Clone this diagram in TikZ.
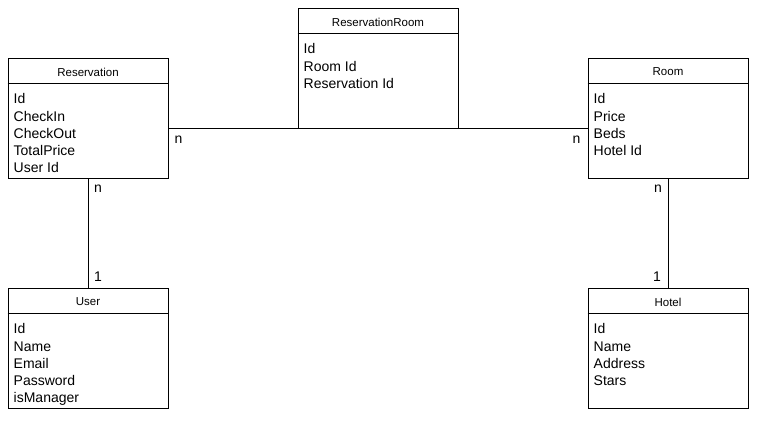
\documentclass[tikz,border=0pt]{standalone}
\usepackage{fontspec}
\setmainfont{Liberation Sans}
\usetikzlibrary{positioning}

\begin{document}
\begin{tikzpicture}
[
    x=1pt, y=-1pt,
    entity/.style={draw, line width=1pt, minimum width=160pt, minimum height=120pt, inner sep=0pt},
    title/.style={font=\fontsize{11.5}{14}\selectfont, inner sep=0pt},
    fields/.style={font=\fontsize{14}{17.2}\selectfont, align=left, anchor=north west, inner sep=0pt},
    card/.style={font=\fontsize{14}{17}\selectfont, inner sep=0pt},
    link/.style={line width=1pt},
]
\useasboundingbox (0,0) rectangle (761,424);

% entities
\node[entity] (res) at (88,118) {};
\node[entity] (resroom) at (378,68) {};
\node[entity] (room) at (668,118) {};
\node[entity] (user) at (88,348) {};
\node[entity] (hotel) at (668,348) {};

% headers
\node[title] (restitle) at ([yshift=-14.5pt]res.north) {Reservation};
\node[title] (resroomtitle) at ([yshift=-14.5pt]resroom.north) {ReservationRoom};
\node[title] (roomtitle) at ([yshift=-14.5pt]room.north) {Room};
\node[title] (usertitle) at ([yshift=-14.5pt]user.north) {User};
\node[title] (hoteltitle) at ([yshift=-14.5pt]hotel.north) {Hotel};
\draw[link] ([yshift=-26pt]res.north west) -- ([yshift=-26pt]res.north east);
\draw[link] ([yshift=-26pt]resroom.north west) -- ([yshift=-26pt]resroom.north east);
\draw[link] ([yshift=-26pt]room.north west) -- ([yshift=-26pt]room.north east);
\draw[link] ([yshift=-26pt]user.north west) -- ([yshift=-26pt]user.north east);
\draw[link] ([yshift=-26pt]hotel.north west) -- ([yshift=-26pt]hotel.north east);

% attributes
\node[fields] (resfields) at ([xshift=6pt,yshift=-36pt]res.north west)
    {Id\\CheckIn\\CheckOut\\TotalPrice\\User Id};
\node[fields] (resroomfields) at ([xshift=6pt,yshift=-36pt]resroom.north west)
    {Id\\Room Id\\Reservation Id};
\node[fields] (roomfields) at ([xshift=6pt,yshift=-36pt]room.north west)
    {Id\\Price\\Beds\\Hotel Id};
\node[fields] (userfields) at ([xshift=6pt,yshift=-36pt]user.north west)
    {Id\\Name\\Email\\Password\\isManager};
\node[fields] (hotelfields) at ([xshift=6pt,yshift=-36pt]hotel.north west)
    {Id\\Name\\Address\\Stars};

% relations
\draw[link] (res.east |- resroom.south) -- (resroom.south west);
\draw[link] (resroom.south east) -- (room.west |- resroom.south);
\draw[link] (res.south) -- (user.north);
\draw[link] (room.south) -- (hotel.north);

\node[card, anchor=base west] (cardresrr) at ([xshift=6pt,yshift=-14.5pt]res.east |- resroom.south) {n};
\node[card, anchor=base east] (cardroomrr) at ([xshift=-7pt,yshift=-14.5pt]room.west |- resroom.south) {n};
\node[card, anchor=base west] (cardresuser) at ([xshift=6pt,yshift=-13.5pt]res.south) {n};
\node[card, anchor=base west] (carduser) at ([xshift=6pt,yshift=6.5pt]user.north) {1};
\node[card, anchor=base east] (cardroomhotel) at ([xshift=-6pt,yshift=-13.5pt]room.south) {n};
\node[card, anchor=base east] (cardhotel) at ([xshift=-7pt,yshift=6pt]hotel.north) {1};
\end{tikzpicture}
\end{document}
